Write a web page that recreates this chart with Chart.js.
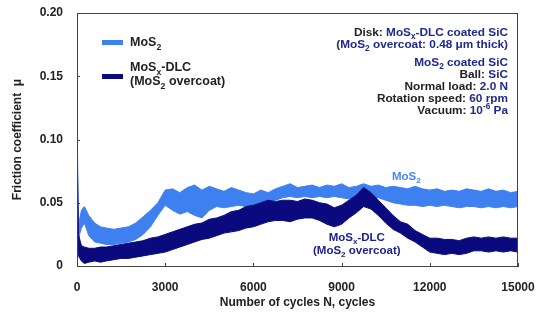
<!DOCTYPE html>
<html>
<head>
<meta charset="utf-8">
<script src="https://cdn.jsdelivr.net/npm/chart.js@4"></script>
<style>
body{margin:0;background:#fff;}
#wrap{position:relative;width:537px;height:320px;font-family:"Liberation Sans",Arial,sans-serif;font-weight:bold;}
#wrap canvas{position:absolute;left:0;top:0;}
.txt{position:absolute;white-space:nowrap;color:#222;}
.blue{color:#1e2a8e;}
sub,sup{font-size:70%;line-height:0;}
.sw{position:absolute;width:21px;height:5px;}
#notes{position:absolute;right:29px;top:26px;text-align:right;font-size:11.8px;line-height:12px;color:#222;}
</style>
</head>
<body>
<div id="wrap">
<canvas id="friction" width="537" height="320"></canvas>

<div class="sw" style="left:102px;top:40px;background:#3f80f0"></div>
<div class="txt" style="left:130px;top:35px;font-size:12.5px">MoS<sub>2</sub></div>
<div class="sw" style="left:102px;top:74px;background:#0a0a7e"></div>
<div class="txt" style="left:130px;top:60px;font-size:12.5px;line-height:14px">MoS<sub>x</sub>-DLC<br>(MoS<sub>2</sub> overcoat)</div>

<div id="notes">
<div>Disk: <span class="blue">MoS<sub>x</sub>-DLC coated SiC</span></div>
<div class="blue">(MoS<sub>2</sub> overcoat: 0.48 μm thick)</div>
<div class="blue" style="margin-top:6px">MoS<sub>2</sub> coated SiC</div>
<div>Ball: <span class="blue">SiC</span></div>
<div>Normal load: <span class="blue">2.0 N</span></div>
<div>Rotation speed: <span class="blue">60 rpm</span></div>
<div>Vacuum: <span class="blue">10<sup>-6</sup> Pa</span></div>
</div>

<div class="txt" style="left:392px;top:170px;font-size:11.5px;color:#4a88f0">MoS<sub>2</sub></div>
<div class="txt" style="left:313px;top:231px;font-size:11.5px;line-height:13px;color:#1c2390;text-align:center">MoS<sub>x</sub>-DLC<br>(MoS<sub>2</sub> overcoat)</div>
</div>

<script>
const cycles=[0,50,150,250,400,600,800,
1000,1250,1500,1750,2000,2250,2500,2750,
3000,3250,3500,3750,4000,4250,4500,4750,
5000,5250,5500,5750,6000,6250,6500,6750,
7000,7250,7500,7750,8000,8250,8500,8750,
9000,9250,9500,9750,10000,10250,10500,10750,
11000,11250,11500,11750,12000,12250,12500,12750,
13000,13250,13500,13750,14000,14250,14500,14750,
15000];

// MoS2 band (upper / lower edge of the noisy trace)
const mos2Top=[0.120,0.032,0.044,0.047,0.040,0.034,0.031,
0.030,0.029,0.030,0.031,0.034,0.039,0.044,0.050,
0.060,0.061,0.058,0.062,0.064,0.060,0.063,0.061,
0.059,0.062,0.060,0.058,0.057,0.060,0.058,0.061,
0.063,0.065,0.062,0.063,0.064,0.062,0.064,0.063,
0.065,0.062,0.063,0.065,0.063,0.064,0.062,0.063,
0.062,0.061,0.063,0.061,0.060,0.061,0.059,0.060,
0.059,0.061,0.060,0.059,0.061,0.059,0.060,0.058,
0.059];
const mos2Bottom=[0.030,0.022,0.030,0.034,0.024,0.019,0.018,
0.017,0.017,0.018,0.019,0.021,0.025,0.031,0.040,
0.048,0.044,0.041,0.043,0.040,0.038,0.044,0.047,
0.046,0.047,0.048,0.047,0.048,0.050,0.051,0.052,
0.054,0.055,0.054,0.055,0.054,0.055,0.054,0.055,
0.054,0.053,0.055,0.054,0.053,0.054,0.052,0.050,
0.049,0.048,0.048,0.047,0.048,0.047,0.048,0.047,
0.046,0.047,0.047,0.046,0.047,0.046,0.047,0.046,
0.047];

// MoSx-DLC (MoS2 overcoat) band
const dlcTop=[0.100,0.025,0.016,0.015,0.014,0.014,0.015,
0.015,0.016,0.017,0.018,0.019,0.020,0.022,0.023,
0.025,0.027,0.029,0.031,0.033,0.034,0.037,0.038,
0.040,0.043,0.044,0.047,0.048,0.050,0.052,0.051,
0.052,0.052,0.051,0.053,0.052,0.050,0.049,0.046,
0.048,0.052,0.056,0.062,0.058,0.052,0.046,0.040,
0.035,0.033,0.028,0.025,0.022,0.022,0.021,0.021,
0.020,0.022,0.023,0.022,0.023,0.022,0.023,0.022,
0.022];
const dlcBottom=[0.020,0.008,0.004,0.002,0.003,0.004,0.003,
0.004,0.005,0.006,0.006,0.007,0.008,0.009,0.010,
0.011,0.013,0.015,0.017,0.019,0.021,0.022,0.024,
0.026,0.027,0.028,0.030,0.031,0.033,0.035,0.036,
0.036,0.035,0.037,0.038,0.038,0.036,0.033,0.031,
0.033,0.038,0.042,0.047,0.045,0.040,0.034,0.029,
0.026,0.022,0.019,0.015,0.011,0.010,0.009,0.010,
0.009,0.010,0.012,0.012,0.011,0.012,0.011,0.012,
0.011];

const xTicks=[0,3000,6000,9000,12000,15000];
const yTicks=[0,0.05,0.10,0.15,0.20];

const lightBlue='#3f80f0';
const navy='#0a0a7e';

function pts(arr){
return cycles.map((c,i)=>({x:c,y:arr[i]}));
}

// plot frame and small inward tick marks
const framePlugin={
id:'frame',
afterDraw(chart){
const ctx=chart.ctx;
const a=chart.chartArea;
ctx.save();
ctx.strokeStyle='#444';
ctx.lineWidth=1;
ctx.strokeRect(a.left+0.5,a.top+0.5,a.right-a.left-1,a.bottom-a.top);
ctx.beginPath();
chart.scales.x.ticks.forEach(t=>{
const px=Math.round(chart.scales.x.getPixelForValue(t.value))+0.5;
ctx.moveTo(px,a.bottom);ctx.lineTo(px,a.bottom-3);
});
chart.scales.y.ticks.forEach(t=>{
const py=Math.round(chart.scales.y.getPixelForValue(t.value))+0.5;
ctx.moveTo(a.left,py);ctx.lineTo(a.left+3,py);
});
ctx.stroke();
ctx.restore();
}
};

const tickFont={family:'"Liberation Sans",Arial,sans-serif',size:12,weight:'bold'};

new Chart(document.getElementById('friction'),{
type:'line',
data:{
datasets:[
{label:'MoS2 top',data:pts(mos2Top),borderColor:lightBlue,borderWidth:1,pointRadius:0,fill:false,order:2},
{label:'MoS2 bottom',data:pts(mos2Bottom),borderColor:lightBlue,backgroundColor:lightBlue,borderWidth:1,pointRadius:0,fill:'-1',order:2},
{label:'DLC top',data:pts(dlcTop),borderColor:navy,borderWidth:1,pointRadius:0,fill:false,order:1},
{label:'DLC bottom',data:pts(dlcBottom),borderColor:navy,backgroundColor:navy,borderWidth:1,pointRadius:0,fill:'-1',order:1}
]
},
options:{
responsive:false,
animation:false,
layout:{padding:{left:0,top:13,right:19,bottom:0}},
plugins:{legend:{display:false},tooltip:{enabled:false}},
scales:{
x:{
type:'linear',min:0,max:15000,
afterFit(s){s.height=54;s.paddingLeft=0;s.paddingRight=0;},
afterBuildTicks(s){s.ticks=xTicks.map(v=>({value:v}));},
grid:{display:false,drawTicks:false},
border:{display:true,color:'#444'},
ticks:{font:tickFont,color:'#222',padding:14,maxRotation:0,callback:v=>String(v)},
title:{display:true,text:'Number of cycles N, cycles',font:tickFont,color:'#222',padding:{top:4,bottom:10}}
},
y:{
type:'linear',min:0,max:0.2,
afterFit(s){s.width=77;s.paddingTop=0;s.paddingBottom=0;},
afterBuildTicks(s){s.ticks=yTicks.map(v=>({value:v}));},
grid:{display:false,drawTicks:false},
border:{display:true,color:'#444'},
ticks:{font:tickFont,color:'#222',padding:14,callback:v=>v===0?'0':v.toFixed(2)},
title:{display:true,text:'Friction coefficient  μ',font:tickFont,color:'#222',padding:{top:10,bottom:4}}
}
}
},
plugins:[framePlugin]
});
</script>
</body>
</html>
